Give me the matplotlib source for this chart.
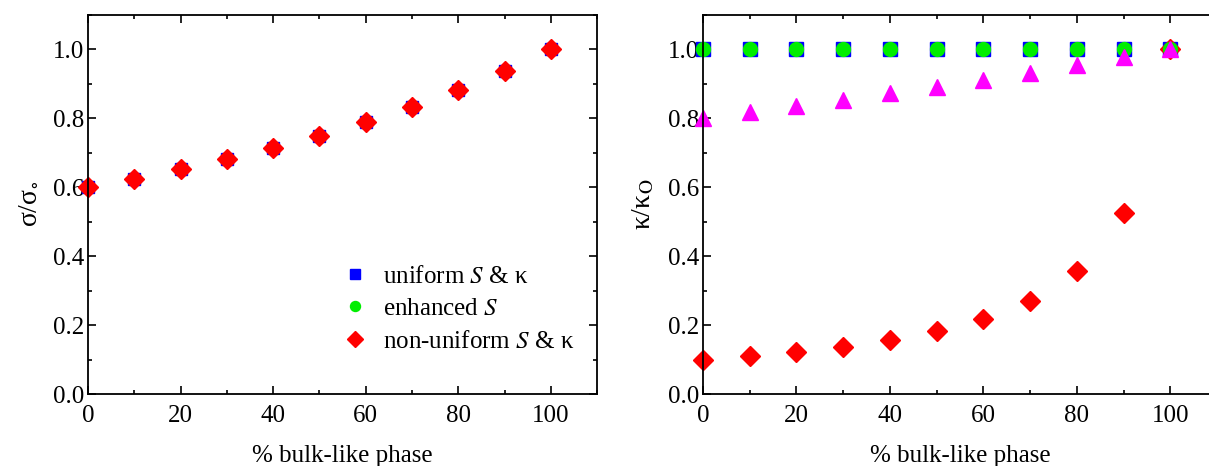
import matplotlib
matplotlib.use("Agg")
import matplotlib.pyplot as plt
from matplotlib.ticker import MultipleLocator

plt.rcParams["font.family"] = ["Liberation Serif", "DejaVu Serif"]
plt.rcParams["mathtext.fontset"] = "stix"

# % bulk-like phase
phase = [0, 10, 20, 30, 40, 50, 60, 70, 80, 90, 100]

# left panel: sigma / sigma_o (all three models coincide)
sigma_uniform = [0.600, 0.625, 0.652, 0.682, 0.714, 0.750, 0.789, 0.833, 0.882, 0.937, 1.000]
sigma_enhanced = [0.600, 0.625, 0.652, 0.682, 0.714, 0.750, 0.789, 0.833, 0.882, 0.937, 1.000]
sigma_nonuniform = [0.600, 0.625, 0.652, 0.682, 0.714, 0.750, 0.789, 0.833, 0.882, 0.937, 1.000]

# right panel: kappa / kappa_o
kappa_uniform = [1.0] * 11
kappa_enhanced = [1.0] * 11
kappa_nonuniform = [0.100, 0.110, 0.122, 0.137, 0.156, 0.182, 0.217, 0.270, 0.357, 0.526, 1.000]
kappa_triangle = [0.800, 0.818, 0.836, 0.854, 0.872, 0.890, 0.910, 0.932, 0.955, 0.977, 1.000]

labels = ["uniform $S$ & κ", "enhanced $S$", "non-uniform $S$ & κ"]

fig = plt.figure(figsize=(12.09, 4.66), dpi=100)
ax1 = fig.add_axes([0.0728, 0.1545, 0.4212, 0.8135])
ax2 = fig.add_axes([0.5815, 0.1545, 0.4251, 0.8135])


def style(ax):
    ax.set_xlim(0, 110)
    ax.set_ylim(0, 1.1)
    ax.xaxis.set_major_locator(MultipleLocator(20))
    ax.xaxis.set_minor_locator(MultipleLocator(10))
    ax.yaxis.set_major_locator(MultipleLocator(0.2))
    ax.yaxis.set_minor_locator(MultipleLocator(0.1))
    ax.yaxis.set_major_formatter(matplotlib.ticker.FormatStrFormatter("%.1f"))
    ax.tick_params(which="both", direction="in", top=True, right=True, labelsize=18, width=1.2)
    ax.tick_params(which="major", length=6)
    ax.tick_params(which="minor", length=3)
    ax.tick_params(axis="x", pad=8)
    ax.tick_params(axis="y", pad=3)
    for s in ax.spines.values():
        s.set_linewidth(1.3)
    ax.set_xlabel("% bulk-like phase", fontsize=18, labelpad=13)


style(ax1)
ax1.plot(phase, sigma_uniform, "s", color="#0000ff", ms=9, ls="none", label=labels[0], clip_on=False)
ax1.plot(phase, sigma_enhanced, "o", color="#00ee00", ms=9, ls="none", label=labels[1], clip_on=False)
ax1.plot(phase, sigma_nonuniform, "D", color="#ff0000", ms=10, ls="none", label=labels[2], clip_on=False)
ax1.set_ylabel(r"σ/σ$_{\circ}$", fontsize=20, labelpad=8)
ax1.legend(loc="lower left", bbox_to_anchor=(0.456, 0.05), frameon=False, fontsize=18,
           handletextpad=0.6, labelspacing=0.4, handlelength=1.0, markerscale=0.8)

style(ax2)
ax2.plot(phase, kappa_uniform, "s", color="#0000ff", ms=10, ls="none", clip_on=False)
ax2.plot(phase, kappa_nonuniform, "D", color="#ff0000", ms=10, ls="none", clip_on=False)
ax2.plot(phase, kappa_enhanced, "o", color="#00ee00", ms=10, ls="none", clip_on=False)
ax2.plot(phase, kappa_triangle, "^", color="#ff00ff", ms=11, ls="none", clip_on=False)
ax2.set_ylabel(r"κ/κ$_{\mathrm{O}}$", fontsize=20, labelpad=8)

fig.savefig("out.png", dpi=100)
